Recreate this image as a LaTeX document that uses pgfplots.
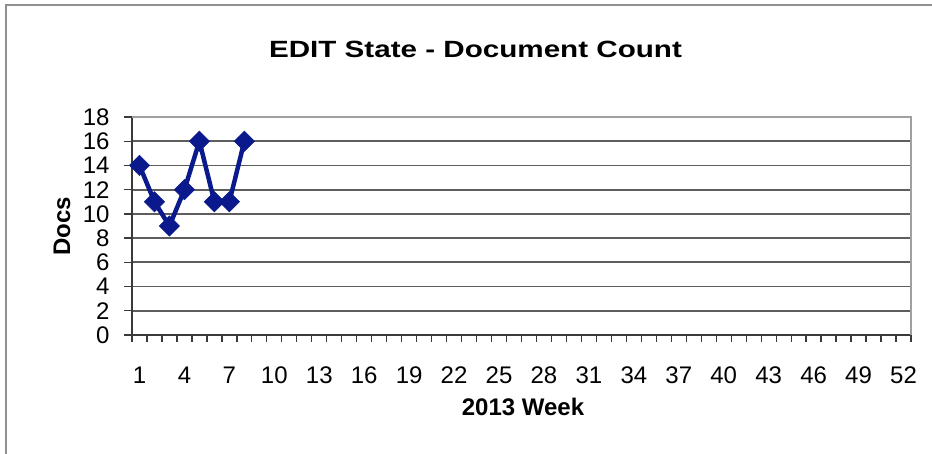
\documentclass[border=0pt]{standalone}
\usepackage{fontspec}
\setmainfont{Liberation Sans}
\newfontfamily\titlefont[FakeStretch=1.26]{Liberation Sans}
\usepackage{pgfplots}
\pgfplotsset{compat=1.18}
\definecolor{navy}{HTML}{0A1A8C}
\definecolor{gridc}{HTML}{5E5E5E}
\definecolor{axc}{HTML}{3A3A3A}
\definecolor{bordc}{HTML}{A0A0A0}
\begin{document}
\begin{tikzpicture}[x=1pt,y=1pt]
\path[use as bounding box] (0,0) rectangle (932,454);
\draw[color=bordc!90!black, line width=2pt] (6,-10) -- (6,449) -- (945,449);
\begin{axis}[
  at={(132pt,119pt)}, anchor=south west,
  scale only axis, width=779pt, height=218pt,
  xmin=0.5, xmax=52.5, ymin=0, ymax=18,
  axis lines=left,
  axis line style={-, color=axc, line width=1.8pt},
  xtick={1,4,...,52},
  minor xtick={0.5,1.5,...,52.5},
  ytick={0,2,...,18},
  tick align=outside,
  major tick length=8pt,
  minor tick length=7pt,
  x tick style={draw=none},
  minor x tick style={draw=axc, line width=1.3pt},
  y tick style={draw=axc, line width=1.3pt},
  ymajorgrids,
  major grid style={color=gridc, line width=1.8pt},
  /pgf/number format/assume math mode=true,
  ticklabel style={font=\fontsize{24}{28}\selectfont},
  xticklabel style={yshift=-20pt},
  yticklabel style={xshift=-11pt},
  clip=false,
]
\draw[color=bordc, line width=2.5pt] (rel axis cs:0,1) -- (rel axis cs:1,1) -- (rel axis cs:1,0);
\addplot[color=navy, line width=4.5pt, mark=square*, mark size=7.2pt,
  mark options={rotate=45, fill=navy, draw=navy, line width=0.5pt}]
  coordinates {(1,14) (2,11) (3,9) (4,12) (5,16) (6,11) (7,11) (8,16)};
\end{axis}
\node[font=\titlefont\bfseries\fontsize{23.5}{28}\selectfont] at (475.5,404.5) {EDIT State - Document Count};
\node[font=\bfseries\fontsize{24}{28}\selectfont] at (523,47) {2013 Week};
\node[font=\bfseries\fontsize{24}{28}\selectfont, rotate=90] at (62,228) {Docs};
\end{tikzpicture}
\end{document}
